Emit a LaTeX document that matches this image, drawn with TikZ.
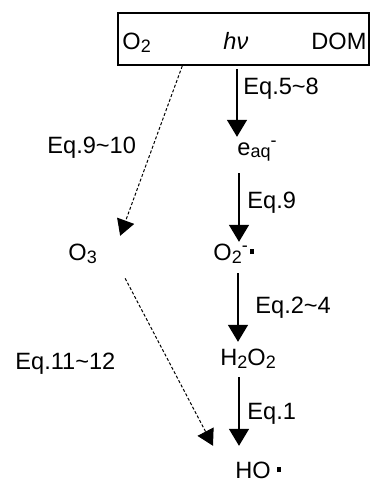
\documentclass[tikz,border=0pt]{standalone}
\usepackage{fontspec}
\setmainfont{Liberation Sans}
\usetikzlibrary{arrows.meta}
\newcommand\dn[1]{\raisebox{-1.5pt}{\fontsize{9}{9}\selectfont #1}}
\newcommand\upx[1]{\raisebox{4.2pt}{\fontsize{9}{9}\selectfont #1}}
\newcommand\rad{\raisebox{3pt}{\rule{2.2pt}{2.4pt}}}
\begin{document}
\begin{tikzpicture}[x=0.5pt,y=-0.5pt,
  lbl/.style={inner sep=0pt, text height=8.4pt, text depth=0pt, anchor=base west,
              font=\fontsize{11.8}{13}\selectfont},
  arr/.style={line width=0.75pt, -{Triangle[width=10pt,length=8.5pt]}},
  darr/.style={line width=0.5pt, dash pattern=on 1.5pt off 1pt,
               -{Triangle[width=9pt,length=8pt]}},
  boxst/.style={draw, line width=1pt, inner sep=0pt,
                minimum width=125.5pt, minimum height=26pt}]
\useasboundingbox (0,0) rectangle (371,481);
\node[boxst] (box) at (243.75,39) {};
\node[lbl] (o2) at (122,50) {O\dn{2}};
\node[lbl] (hv) at (223,50) {\itshape hν};
\node[lbl] (dom) at (311,50) {DOM};
\node[lbl] (eaq) at (237,155) {e\dn{aq}\upx{-}};
\node[lbl] (o2r) at (213,260) {O\dn{2}\upx{-}\hspace{1pt}\rad};
\node[lbl] (o3) at (68,260) {O\dn{3}};
\node[lbl] (h2o2) at (220,365) {H\dn{2}O\dn{2}};
\node[lbl] (ho) at (235,478) {HO\hspace{3pt}\rad};
\node[lbl] (l58) at (243,95) {Eq.5\textasciitilde 8};
\node[lbl] (l9) at (247,208) {Eq.9};
\node[lbl] (l24) at (255,313) {Eq.2\textasciitilde 4};
\node[lbl] (l1) at (247,419) {Eq.1};
\node[lbl] (l910) at (47,153) {Eq.9\textasciitilde 10};
\node[lbl] (l1112) at (15,369) {Eq.11\textasciitilde 12};
\draw[arr, shorten <=1.5pt] (box.south -| eaq.west) -- ([yshift=0.5pt]eaq.north west);
\draw[arr, shorten <=9pt, shorten >=0.5pt] ([xshift=1pt]eaq.south west) -- ([xshift=1pt]eaq.south west |- o2r.north);
\draw[arr, shorten <=6.5pt, shorten >=3pt] ([xshift=0.5pt]eaq.south west |- o2r.south) -- ([xshift=0.5pt]eaq.south west |- h2o2.north);
\draw[arr, shorten <=6pt, shorten >=7.5pt] ([xshift=1pt]eaq.south west |- h2o2.south) -- ([xshift=1pt]eaq.south west |- ho.north);
\draw[darr] ([xshift=-30.75pt]box.south) -- ([xshift=11.5pt,yshift=3.5pt]o3.north east);
\draw[darr] ([xshift=14pt,yshift=-9pt]o3.south east) -- ([xshift=-11pt,yshift=7.5pt]ho.north west);
\end{tikzpicture}
\end{document}
